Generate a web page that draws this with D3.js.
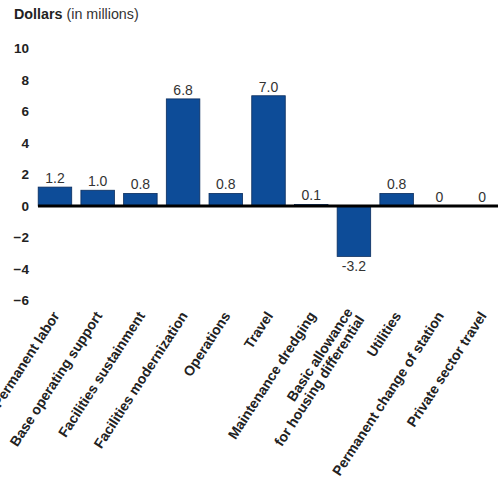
<!DOCTYPE html>
<html>
<head>
<meta charset="utf-8">
<script src="https://cdn.jsdelivr.net/npm/d3@7"></script>
<style>
  html, body { margin: 0; padding: 0; background: #fff; }
  svg { display: block; font-family: "Liberation Sans", Arial, Helvetica, sans-serif; }
</style>
</head>
<body>
<svg id="chart" width="498" height="479"></svg>
<script>
const categories = [
  "Permanent labor",
  "Base operating support",
  "Facilities sustainment",
  "Facilities modernization",
  "Operations",
  "Travel",
  "Maintenance dredging",
  "Basic allowance\nfor housing differential",
  "Utilities",
  "Permanent change of station",
  "Private sector travel"
];
const values = [1.2, 1.0, 0.8, 6.8, 0.8, 7.0, 0.1, -3.2, 0.8, 0, 0];
const valueLabels = ["1.2", "1.0", "0.8", "6.8", "0.8", "7.0", "0.1", "-3.2", "0.8", "0", "0"];
const yTicks = [10, 8, 6, 4, 2, 0, -2, -4, -6];

const svg = d3.select("#chart");

const x = d3.scaleBand()
  .domain(categories)
  .range([33.6, 503.4])
  .paddingInner(0.215)
  .paddingOuter(0.1075);

const y = d3.scaleLinear()
  .domain([-6, 10])
  .range([300.5, 48.5]);

// Title
const title = svg.append("text")
  .attr("x", 14)
  .attr("y", 19)
  .attr("font-size", 14.3)
  .attr("fill", "#222");
title.append("tspan").attr("font-weight", "bold").text("Dollars");
title.append("tspan").attr("fill", "#333").text(" (in millions)");

// Y axis (labels only)
const yAxis = d3.axisLeft(y)
  .tickValues(yTicks)
  .tickSize(0)
  .tickPadding(0)
  .tickFormat(d3.format("d"));
const yg = svg.append("g")
  .attr("transform", "translate(29,0)")
  .call(yAxis);
yg.select(".domain").remove();
yg.selectAll("text")
  .attr("font-size", 13.5)
  .attr("font-weight", "bold")
  .attr("fill", "#222")
  .attr("font-family", "Liberation Sans, Arial, sans-serif");

// Bars
svg.append("g").selectAll("rect")
  .data(values)
  .join("rect")
  .attr("x", (d, i) => x(categories[i]))
  .attr("width", x.bandwidth())
  .attr("y", d => y(Math.max(0, d)))
  .attr("height", d => Math.abs(y(d) - y(0)))
  .attr("fill", "#0d4c98")
  .attr("stroke", "#0a2d5e")
  .attr("stroke-width", 0.8);

// Zero line
svg.append("line")
  .attr("x1", 38).attr("x2", 498)
  .attr("y1", y(0)).attr("y2", y(0))
  .attr("stroke", "#000")
  .attr("stroke-width", 3);

// Value labels
svg.append("g").selectAll("text")
  .data(values)
  .join("text")
  .attr("x", (d, i) => x(categories[i]) + x.bandwidth() / 2)
  .attr("y", d => d >= 0 ? y(d) - 4 : y(d) + 15)
  .attr("text-anchor", "middle")
  .attr("font-size", 14)
  .attr("fill", "#333")
  .text((d, i) => valueLabels[i]);

// Category labels (rotated)
const xg = svg.append("g");
categories.forEach((c, i) => {
  const lines = c.split("\n");
  const cx = x(c) + x.bandwidth() / 2 + 1;
  const t = xg.append("text")
    .attr("transform", `translate(${cx},313) rotate(-57)`)
    .attr("text-anchor", "end")
    .attr("font-size", 14)
    .attr("font-weight", "bold")
    .attr("fill", "#222");
  const off = -(lines.length - 1) / 2 * 1.0;
  lines.forEach((l, j) => {
    t.append("tspan")
      .attr("x", 0)
      .attr("dy", j === 0 ? `${off + 0.35}em` : "1.0em")
      .text(l);
  });
});
</script>
</body>
</html>
